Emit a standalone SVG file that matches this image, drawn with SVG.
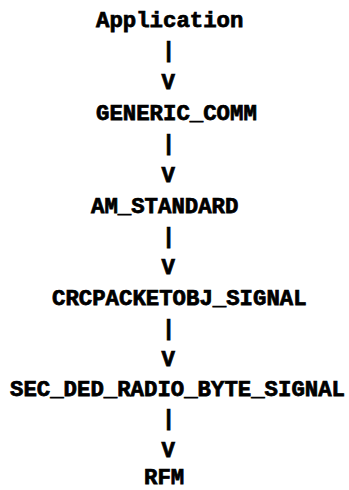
<svg xmlns="http://www.w3.org/2000/svg" width="349" height="490" viewBox="0 0 349 490">
<style>
text{font-family:"Liberation Mono","Courier New",monospace;font-weight:bold;fill:#000;stroke:#000;stroke-width:0.75}
.n{font-size:22px}
.v{font-size:22px}
.b{font-size:22px}
</style>
<rect width="349" height="490" fill="#fff"/>
<g id="connectors">
<text class="b" x="168.5" y="57" text-anchor="middle">|</text>
<text class="v" x="161.5" y="89" textLength="13.4" lengthAdjust="spacingAndGlyphs">V</text>
<text class="b" x="168.5" y="150" text-anchor="middle">|</text>
<text class="v" x="161.5" y="182" textLength="13.4" lengthAdjust="spacingAndGlyphs">V</text>
<text class="b" x="168.5" y="243" text-anchor="middle">|</text>
<text class="v" x="161.5" y="274" textLength="13.4" lengthAdjust="spacingAndGlyphs">V</text>
<text class="b" x="168.5" y="335" text-anchor="middle">|</text>
<text class="v" x="161.5" y="366" textLength="13.4" lengthAdjust="spacingAndGlyphs">V</text>
<text class="b" x="168.5" y="425" text-anchor="middle">|</text>
<text class="v" x="161.5" y="457" textLength="13.4" lengthAdjust="spacingAndGlyphs">V</text>
</g>
<g id="application"><text class="n" x="96" y="27" textLength="147.4" lengthAdjust="spacingAndGlyphs">Application</text></g>
<g id="generic_comm"><text class="n" x="96" y="120" textLength="160.8" lengthAdjust="spacingAndGlyphs">GENERIC_COMM</text></g>
<g id="am_standard"><text class="n" x="91" y="213" textLength="147.4" lengthAdjust="spacingAndGlyphs">AM_STANDARD</text></g>
<g id="crcpacketobj_signal"><text class="n" x="52" y="305" textLength="254.6" lengthAdjust="spacingAndGlyphs">CRCPACKETOBJ_SIGNAL</text></g>
<g id="sec_ded_radio_byte_signal"><text class="n" x="10" y="396" textLength="335" lengthAdjust="spacingAndGlyphs">SEC_DED_RADIO_BYTE_SIGNAL</text></g>
<g id="rfm"><text class="n" x="144" y="484" textLength="40.2" lengthAdjust="spacingAndGlyphs">RFM</text></g>
</svg>
